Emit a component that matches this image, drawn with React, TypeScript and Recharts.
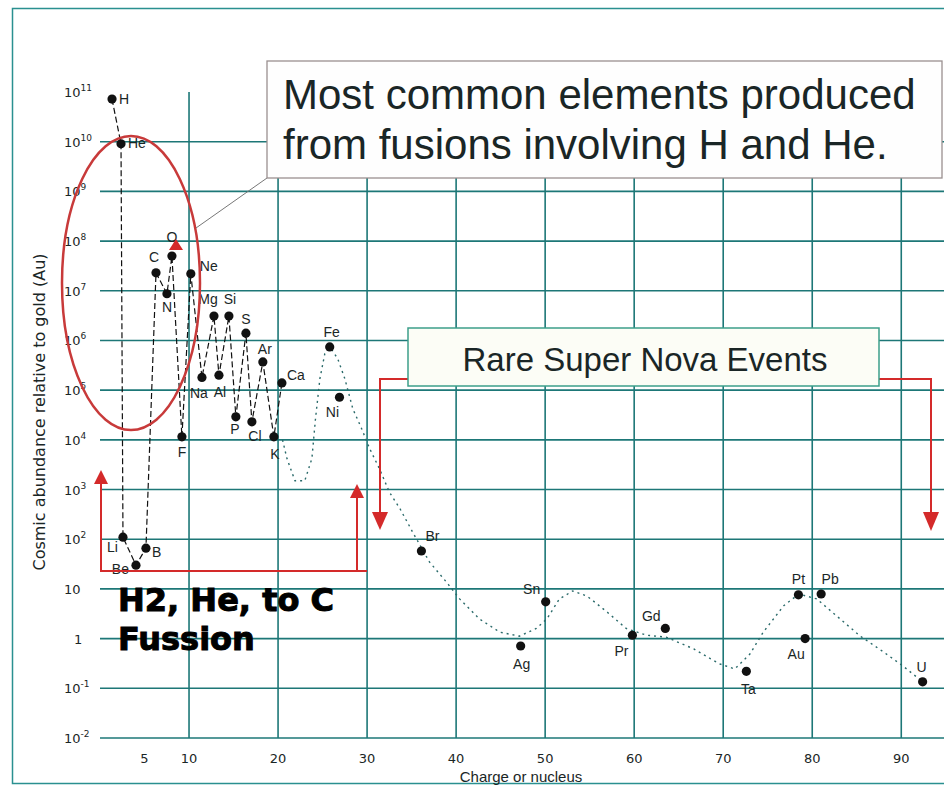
import React from 'react';
import { ComposedChart, Scatter, XAxis, YAxis, ReferenceLine } from 'recharts';

// light elements, H..Ca, joined in order
const LIGHT_NAMES = ['H', 'He', 'Li', 'Be', 'B', 'C', 'N', 'O', 'F', 'Ne', 'Na', 'Mg', 'Al', 'Si', 'P', 'S', 'Cl', 'Ar', 'K', 'Ca'];
const LIGHT_Z = [1.35, 2.36, 2.58, 4.04, 5.16, 6.29, 7.52, 8.08, 9.2, 10.2, 11.45, 12.8, 13.36, 14.48, 15.26, 16.39, 17.06, 18.29, 19.53, 20.43];
const LIGHT_ABUND = [7.2e10, 9.1e9, 110, 30, 66, 2.3e7, 8.7e6, 5.0e7, 1.15e4, 2.2e7, 1.8e5, 3.1e6, 2.0e5, 3.1e6, 2.9e4, 1.4e6, 2.3e4, 3.7e5, 1.15e4, 1.4e5];

// heavier elements, dots only
const HEAVY_NAMES = ['Fe', 'Ni', 'Br', 'Ag', 'Sn', 'Pr', 'Gd', 'Ta', 'Pt', 'Au', 'Pb', 'U'];
const HEAVY_Z = [25.8, 26.9, 36.1, 47.25, 50.06, 59.8, 63.5, 72.6, 78.45, 79.2, 81.0, 92.4];
const HEAVY_ABUND = [7.4e5, 7.2e4, 58, 0.71, 5.5, 1.17, 1.6, 0.22, 7.6, 1.0, 7.9, 0.135];

// dotted trend curve
const TREND_Z = [20.5, 21.0, 21.9, 23.0, 23.8, 24.2, 24.7, 25.25, 25.9, 26.7, 27.5, 28.4, 29.4, 30.3, 31.4, 32.5, 33.7, 35.1, 37.0, 38.9, 40.4, 42.6, 44.9, 47.1, 49.0, 50.2, 51.6, 53.1, 54.7, 56.9, 59.1, 61.4, 63.6, 66.7, 68.6, 69.6, 71.3, 73.0, 74.5, 76.8, 78.5, 80.5, 82.7, 85.4, 88.0, 90.2, 92.4];
const TREND_ABUND = [1.0e4, 4.2e3, 1.5e3, 1.5e3, 4.2e3, 2.6e4, 1.7e5, 5.4e5, 7.1e5, 4.3e5, 1.7e5, 4.2e4, 1.66e4, 6.6e3, 2.6e3, 890, 410, 141, 35, 13.8, 6.3, 2.5, 1.35, 1.12, 1.6, 2.5, 6.3, 9.1, 7.2, 3.5, 1.6, 1.17, 1.07, 0.62, 0.39, 0.31, 0.245, 0.49, 1.35, 4.6, 7.9, 6.3, 2.9, 1.12, 0.54, 0.28, 0.135];

const X_TICKS = [5, 10, 20, 30, 40, 50, 60, 70, 80, 90];
const X_GRID = [10, 20, 30, 40, 50, 60, 70, 80, 90];
const Y_TICKS = [1e-2, 1e-1, 1, 1e1, 1e2, 1e3, 1e4, 1e5, 1e6, 1e7, 1e8, 1e9, 1e10, 1e11];
const Y_GRID = [1e-2, 1e-1, 1, 1e1, 1e2, 1e3, 1e4, 1e5, 1e6, 1e7, 1e8, 1e9, 1e10];

const light = LIGHT_NAMES.map((name, i) => ({ name, z: LIGHT_Z[i], v: LIGHT_ABUND[i] }));
const heavy = HEAVY_NAMES.map((name, i) => ({ name, z: HEAVY_Z[i], v: HEAVY_ABUND[i] }));
const trend = TREND_Z.map((z, i) => ({ z, v: TREND_ABUND[i] }));

// where each element's label sits relative to its dot: dx, dy, anchor
const LABEL_AT: Record<string, [number, number, string]> = {
  H: [7, 5, 'start'], He: [7, 4, 'start'], Li: [-5, 15, 'end'], Be: [-7, 9, 'end'], B: [6, 9, 'start'],
  C: [-2, -11, 'middle'], N: [0, 18, 'middle'], O: [0, -14, 'middle'], F: [0, 20, 'middle'], Ne: [9, -3, 'start'],
  Na: [-3, 21, 'middle'], Mg: [-6, -12, 'middle'], Al: [1, 22, 'middle'], Si: [1, -12, 'middle'], P: [-1, 17, 'middle'],
  S: [0, -9, 'middle'], Cl: [3, 19, 'middle'], Ar: [2, -8, 'middle'], K: [1, 22, 'middle'], Ca: [5, -3, 'start'],
  Fe: [2, -10, 'middle'], Ni: [-7, 20, 'middle'], Br: [4, -10, 'start'], Ag: [1, 23, 'middle'], Sn: [-14, -8, 'middle'],
  Pr: [-11, 21, 'middle'], Gd: [-14, -7, 'middle'], Ta: [2, 23, 'middle'], Pt: [0, -11, 'middle'], Au: [-9, 20, 'middle'],
  Pb: [9, -10, 'middle'], U: [-1, -10, 'middle'],
};

const GRID = '#1d7777';
const INK = '#1a2626';
const RED = '#d42a2a';
const SANS = '"Liberation Sans", Arial, sans-serif';
const DEJA = '"DejaVu Sans", sans-serif';

function ElementDot(props: any) {
  const { cx, cy, payload } = props;
  const spot = LABEL_AT[payload.name] || [6, -6, 'start'];
  return (
    <g>
      <circle cx={cx} cy={cy} r={4.6} fill="#111" />
      <text x={cx + spot[0]} y={cy + spot[1]} textAnchor={spot[2] as any} fontSize={14} fontFamily={SANS} fill={INK}>
        {payload.name}
      </text>
    </g>
  );
}

function YTick(props: any) {
  const { y, payload } = props;
  const e = Math.round(Math.log10(payload.value));
  const common = { fontSize: 13, fontFamily: DEJA, fill: INK };
  if (e === 0) return <text x={74} y={y + 5} {...common}>1</text>;
  if (e === 1) return <text x={64} y={y + 5} {...common}>10</text>;
  return (
    <text x={64} y={y + 5} {...common}>
      10<tspan dy={-6} fontSize={9}>{e}</tspan>
    </text>
  );
}

function XTick(props: any) {
  const { x, payload } = props;
  return (
    <text x={x} y={763} textAnchor="middle" fontSize={13} fontFamily={DEJA} fill={INK}>
      {payload.value}
    </text>
  );
}

export default function App() {
  return (
    <div style={{ position: 'absolute', left: 0, top: 0, width: 944, height: 786, background: '#fff', overflow: 'hidden' }}>
      <ComposedChart width={944} height={786} margin={{ top: 92, right: 0, bottom: 18, left: 0 }}>
        <XAxis type="number" dataKey="z" domain={[0, 94.8]} ticks={X_TICKS} axisLine={false} tickLine={false} tick={<XTick />} height={30} allowDataOverflow />
        <YAxis type="number" dataKey="v" scale="log" domain={[0.01, 1e11]} ticks={Y_TICKS} axisLine={false} tickLine={false} tick={<YTick />} width={100} allowDataOverflow />
        {Y_GRID.map(v => (
          <ReferenceLine key={'h' + v} y={v} stroke={GRID} strokeWidth={1.6} />
        ))}
        {X_GRID.map(v => (
          <ReferenceLine key={'v' + v} x={v} stroke={GRID} strokeWidth={1.6} />
        ))}
        <Scatter data={trend} shape={() => <g />} line={{ stroke: '#2a6a6a', strokeWidth: 1.4, strokeDasharray: '2 4' }} lineType="joint" isAnimationActive={false} />
        <Scatter data={light} shape={<ElementDot />} line={{ stroke: '#111', strokeWidth: 1.2, strokeDasharray: '6 3' }} lineType="joint" isAnimationActive={false} />
        <Scatter data={heavy} shape={<ElementDot />} isAnimationActive={false} />
      </ComposedChart>

      <svg width={944} height={786} style={{ position: 'absolute', left: 0, top: 0, pointerEvents: 'none' }}>
        <rect x={12.5} y={8.5} width={1000} height={775} fill="none" stroke="#2a9090" strokeWidth={1.5} />

        <text transform="translate(45,412) rotate(-90)" textAnchor="middle" fontSize={16} fontFamily={DEJA} fill={INK}>
          Cosmic abundance relative to gold (Au)
        </text>
        <text x={521} y={782} textAnchor="middle" fontSize={15} fontFamily={SANS} fill={INK}>Charge or nucleus</text>

        {/* H / He callout */}
        <ellipse cx={131} cy={283} rx={69} ry={147} fill="none" stroke="#c83a3a" strokeWidth={2.5} />
        <line x1={267} y1={178} x2={196} y2={228} stroke="#777" strokeWidth={1} />
        <polygon points="176,239 169,250 183,250" fill={RED} />
        <rect x={267} y={61} width={675} height={117} fill="#fefefe" stroke="#9a9090" strokeWidth={1.3} />
        <text x={283} y={109} fontSize={42} fontFamily={SANS} fill={INK}>Most common elements produced</text>
        <text x={283} y={159} fontSize={42} fontFamily={SANS} fill={INK}>from fusions involving H and He.</text>

        {/* light fusion bracket */}
        <polyline points="101,483 101,571 367,571" fill="none" stroke={RED} strokeWidth={2} />
        <line x1={357} y1={571} x2={357} y2={496} stroke={RED} strokeWidth={2} />
        <polygon points="101,470 94,484 108,484" fill={RED} />
        <polygon points="357,484 350,498 364,498" fill={RED} />
        <text x={118} y={611} fontSize={32} fontWeight="bold" fontFamily={DEJA} fill="#000" stroke="#000" strokeWidth={1}>H2, He, to C</text>
        <text x={118} y={650} fontSize={32} fontWeight="bold" fontFamily={DEJA} fill="#000" stroke="#000" strokeWidth={1}>Fussion</text>

        {/* super nova callout */}
        <polyline points="408,379 380,379 380,514" fill="none" stroke={RED} strokeWidth={2} />
        <polygon points="372,512 388,512 380,530" fill={RED} />
        <polyline points="879,379 931,379 931,514" fill="none" stroke={RED} strokeWidth={2} />
        <polygon points="923,512 939,512 931,531" fill={RED} />
        <rect x={408} y={328} width={471} height={58} fill="#fcfdf6" stroke="#3c9f8a" strokeWidth={1.5} />
        <text x={645} y={371} textAnchor="middle" fontSize={33} fontFamily={SANS} fill={INK}>Rare Super Nova Events</text>
      </svg>
    </div>
  );
}
